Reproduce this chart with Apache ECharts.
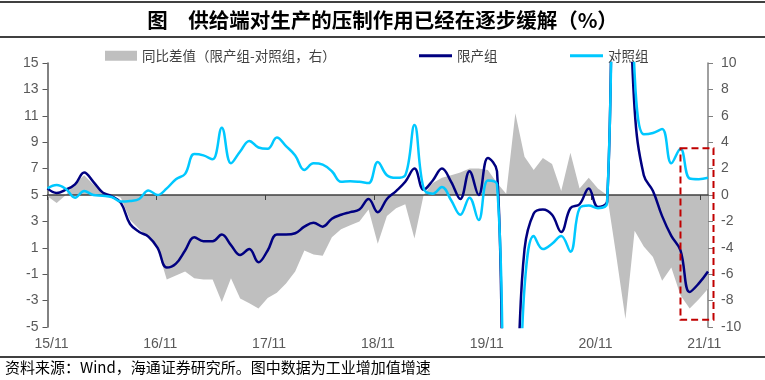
<!DOCTYPE html>
<html><head><meta charset="utf-8">
<script src="https://cdn.jsdelivr.net/npm/echarts@6/dist/echarts.min.js"></script>
<style>html,body{margin:0;padding:0;background:#fff}#c{width:765px;height:380px}</style>
</head><body><div id="c"></div>
<script>
// ---- data ----
const months = ['2015-11','2015-12','2016-01','2016-02','2016-03','2016-04','2016-05','2016-06','2016-07','2016-08','2016-09','2016-10',
'2016-11','2016-12','2017-01','2017-02','2017-03','2017-04','2017-05','2017-06','2017-07','2017-08','2017-09','2017-10',
'2017-11','2017-12','2018-01','2018-02','2018-03','2018-04','2018-05','2018-06','2018-07','2018-08','2018-09','2018-10',
'2018-11','2018-12','2019-01','2019-02','2019-03','2019-04','2019-05','2019-06','2019-07','2019-08','2019-09','2019-10',
'2019-11','2019-12','2020-01','2020-02','2020-03','2020-04','2020-05','2020-06','2020-07','2020-08','2020-09','2020-10',
'2020-11','2020-12','2021-01','2021-02','2021-03','2021-04','2021-05','2021-06','2021-07','2021-08','2021-09','2021-10','2021-11'];
const seriesNames = ['同比差值（限产组-对照组，右）','限产组','对照组'];
const limited = [5.5,5.15,5.4,5.8,6.7,6.0,5.2,4.9,4.4,2.8,2.2,1.85,
1.0,-0.5,-0.2,0.8,1.8,1.5,1.5,2.0,1.2,0.45,0.9,-0.1,
0.8,2.0,2.0,2.1,2.6,2.9,2.6,3.2,3.5,3.7,3.9,4.7,
3.7,4.7,5.3,6.0,7.0,5.4,6.1,7.0,6.0,4.7,6.8,5.0,
7.8,6.8,-13,-10,0.9,3.6,3.9,3.5,2.2,4.0,4.3,5.5,
4.1,4.5,30,28,11.5,6.5,5.3,3.4,1.9,0.8,-2.35,-1.7,-0.8];
const control = [5.5,5.75,5.45,4.8,5.3,5.0,4.95,4.85,4.5,4.55,4.7,5.35,
5.0,5.5,6.2,6.6,8.1,8.0,7.7,10.1,7.4,8.3,9.1,8.6,
8.5,9.35,8.7,8.0,6.9,7.4,7.3,6.8,6.0,6.05,6.0,5.9,
7.5,6.5,6.3,6.5,10.3,5.5,5.1,5.6,4.6,3.5,4.8,3.1,
6.1,5.8,-13,-16,-2.0,1.9,0.9,1.3,1.9,0.7,4.0,4.2,
4.0,4.4,34.6,37.4,14.2,9.6,9.7,10.0,7.4,8.5,6.25,6.2,6.3];
const diff = [-0.1,-0.6,0.0,0.9,1.5,0.8,0.25,0.05,-0.2,-1.9,-2.6,-3.3,
-4.1,-6.4,-6.1,-5.8,-6.3,-6.4,-6.4,-8.1,-6.3,-7.85,-8.2,-8.6,
-7.8,-7.4,-6.7,-5.8,-4.2,-4.5,-4.6,-3.2,-2.6,-2.3,-2.0,-1.1,
-3.7,-1.6,-1.0,-0.7,-3.3,0.0,0.9,1.3,1.5,1.7,2.0,2.0,
1.9,0.9,0.1,6.2,2.9,1.9,2.8,2.35,0.3,3.2,0.5,1.3,
0.5,0.0,-4.6,-9.4,-2.7,-3.9,-4.7,-6.5,-5.5,-7.6,-8.6,-7.9,-7.1];
const tickLabels = ['15/11','16/11','17/11','18/11','19/11','20/11','21/11'];
const tickMonths = [0,12,24,36,48,60,72];
const leftTicks = {min:-5, max:15, interval:2};
const rightTicks = {min:-10, max:10, interval:2};
// highlighted box (data units: category index, left-axis value)
const BOX = {fromIndex:69, toIndex:72.6, top:8.55, bottom:-4.45};

// ---- chart ----
const chart = echarts.init(document.getElementById('c'), null, {renderer:'canvas'});
const AX = '#595959';
const LF = 'Liberation Sans, Arial, sans-serif';
const CJK = '"Noto Sans CJK SC", sans-serif';
const legendBase = {top:44, itemHeight:12, itemGap:5, textStyle:{fontFamily:CJK, fontSize:13.5, color:'#404040'}, selectedMode:false};
chart.setOption({
  animation:false,
  backgroundColor:'#ffffff',
  title:{text:'图　供给端对生产的压制作用已经在逐步缓解（%）', left:'center', top:5,
    textStyle:{fontFamily:CJK, fontSize:20.5, fontWeight:'bold', color:'#000'}},
  legend:[
    Object.assign({}, legendBase, {data:[seriesNames[0]], left:100, icon:'rect', itemWidth:32, itemHeight:10}),
    Object.assign({}, legendBase, {data:[{name:seriesNames[1], icon:'rect'}], left:414, itemWidth:33, itemHeight:3}),
    Object.assign({}, legendBase, {data:[{name:seriesNames[2], icon:'rect'}], left:565, itemWidth:33, itemHeight:3})
  ],
  grid:{left:47.5, right:57, top:63, bottom:53, containLabel:false},
  xAxis:[
    {type:'category', data:months, boundaryGap:false, show:false},
    {type:'value', min:0, max:72.85, position:'bottom', z:2,
      axisLine:{show:true, onZero:true, lineStyle:{color:'#404040', width:1.5}},
      axisTick:{show:true, customValues:tickMonths, length:5, inside:false, lineStyle:{color:'#404040', width:1}},
      axisLabel:{show:false}, splitLine:{show:false}},
    {type:'value', min:0, max:72.85, position:'bottom',
      axisLine:{show:false, onZero:false}, axisTick:{show:false},
      axisLabel:{show:true, customValues:tickMonths, formatter:function(v){const i=tickMonths.indexOf(v);return i>=0?tickLabels[i]:'';},
        margin:10, color:AX, fontSize:14, fontFamily:LF, padding:[0,0,0,8]},
      splitLine:{show:false}}
  ],
  yAxis:[
    {type:'value', min:leftTicks.min, max:leftTicks.max, interval:leftTicks.interval, position:'left',
      axisLine:{show:true, onZero:false, lineStyle:{color:AX, width:1.5}},
      axisTick:{show:true, length:5, lineStyle:{color:AX, width:1}},
      axisLabel:{color:AX, fontSize:14, fontFamily:LF, margin:9}, splitLine:{show:false}},
    {type:'value', min:rightTicks.min, max:rightTicks.max, interval:rightTicks.interval, position:'right',
      axisLine:{show:true, onZero:false, lineStyle:{color:'#808080', width:1.5}},
      axisTick:{show:true, length:5, lineStyle:{color:'#808080', width:1}},
      axisLabel:{color:AX, fontSize:14, fontFamily:LF, margin:13}, splitLine:{show:false}}
  ],
  series:[
    {name:seriesNames[0], type:'line', xAxisIndex:0, yAxisIndex:1, data:diff, symbol:'none', smooth:false,
      lineStyle:{width:0}, areaStyle:{color:'#BFBFBF', opacity:1}, itemStyle:{color:'#BFBFBF'}, z:1},
    {name:seriesNames[1], type:'line', xAxisIndex:0, yAxisIndex:0, data:limited, symbol:'none', smooth:0.4,
      lineStyle:{width:2.5, color:'#000080'}, itemStyle:{color:'#000080'}, z:3},
    {name:seriesNames[2], type:'line', xAxisIndex:0, yAxisIndex:0, data:control, symbol:'none', smooth:0.4,
      lineStyle:{width:2.5, color:'#00C8FF'}, itemStyle:{color:'#00C8FF'}, z:4}
  ],
  graphic:[
    {type:'line', shape:{x1:0,y1:2,x2:765,y2:2}, style:{stroke:'#000', lineWidth:1.5}, silent:true},
    {type:'line', shape:{x1:0,y1:37,x2:765,y2:37}, style:{stroke:'#000', lineWidth:1.5}, silent:true},
    {type:'line', shape:{x1:0,y1:357,x2:765,y2:357}, style:{stroke:'#000', lineWidth:1.5}, silent:true},
    {type:'text', left:5, top:360, style:{text:'资料来源：Wind，海通证券研究所。图中数据为工业增加值增速', font:'15px "Noto Sans CJK SC", sans-serif', fill:'#000'}, silent:true}
  ]
});
// dashed highlight box, positioned through the axes
const x0 = chart.convertToPixel({xAxisIndex:0}, months[0]);
const x1 = chart.convertToPixel({xAxisIndex:0}, months[1]);
const step = x1 - x0;
const bx = chart.convertToPixel({xAxisIndex:0}, months[BOX.fromIndex]);
const bxEnd = chart.convertToPixel({xAxisIndex:0}, months[72]) + (BOX.toIndex - 72) * step;
const by = chart.convertToPixel({yAxisIndex:0}, BOX.top);
const byEnd = chart.convertToPixel({yAxisIndex:0}, BOX.bottom);
chart.setOption({graphic:[{type:'rect', id:'box', z:100, shape:{x:bx, y:by, width:bxEnd-bx, height:byEnd-by},
  style:{fill:'none', stroke:'#C00000', lineWidth:2, lineDash:[7,4]}, silent:true}]});
</script></body></html>
